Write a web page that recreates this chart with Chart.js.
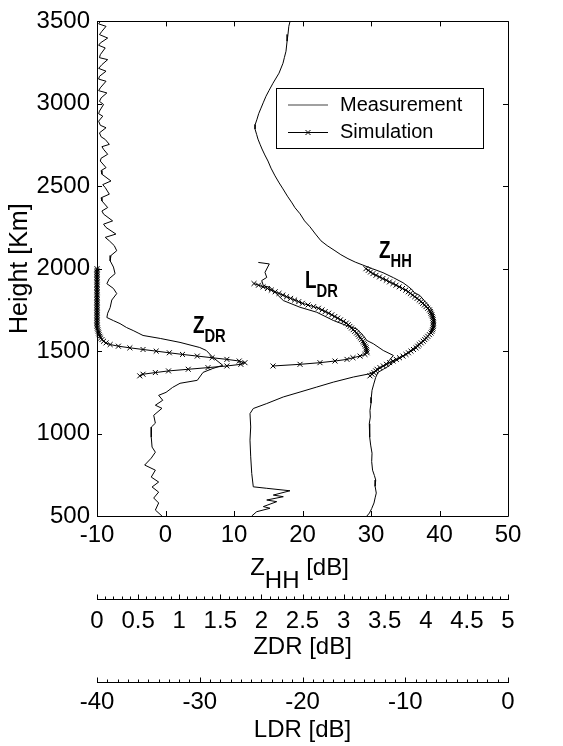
<!DOCTYPE html>
<html><head><meta charset="utf-8">
<script src="https://cdn.jsdelivr.net/npm/chart.js@4.4.0/dist/chart.umd.min.js"></script>
<style>html,body{margin:0;padding:0;background:#fff;}</style>
</head><body>
<canvas id="c" width="563" height="746"></canvas>
<script>
// ---------- tick labels ----------
const heightTicks = [500, 1000, 1500, 2000, 2500, 3000, 3500];
const zhhTicks = [-10, 0, 10, 20, 30, 40, 50];
const zdrTicks = [0, 0.5, 1, 1.5, 2, 2.5, 3, 3.5, 4, 4.5, 5];
const ldrTicks = [-40, -30, -20, -10, 0];

// ---------- Z_HH measurement (dB) ----------
const zhhMeasHeight = [3500,3470,3421,3380,3319,3280,3246,3186,3125,3080,3046,3010,2974,2940,2907,2875,2847,2815,2786,2755,2726,2690,2653,2610,2563,2520,2484,2440,2399,2370,2333,2290,2254,2210,2169,2140,2109,2085,2061,2040,2024,2000,1976,1945,1915,1890,1867,1855,1837,1810,1788,1760,1734,1700,1674,1640,1607,1575,1547,1520,1492,1470,1450,1430,1407,1390,1371,1341,1300,1262,1220,1184,1140,1100,1060,1020,978,930,881,830,778,745,718,680,639,610,579,545,518,500];
const zhhMeasValue = [18.18,18.0,17.88,17.75,17.59,17.35,17.15,16.57,15.69,15.1,14.67,14.3,13.94,13.6,13.36,13.1,13.07,13.3,13.5,13.8,14.09,14.5,14.96,15.4,15.99,16.6,17.15,17.8,18.47,18.9,19.64,20.3,21.09,21.9,22.7,23.6,24.74,25.6,26.64,27.7,28.69,30.2,31.75,33.3,34.67,35.5,36.13,36.3,37.15,37.7,38.18,38.7,39.05,39.2,39.2,38.95,38.61,37.9,37.15,36.3,35.4,34.7,33.94,33.2,32.48,31.8,31.02,30.69,30.4,30.15,30.05,30.0,29.85,29.9,29.75,29.85,29.77,29.95,30.15,30.1,30.23,30.5,30.69,30.6,30.77,30.6,30.44,30.1,29.77,29.4];

// ---------- ZDR measurement (dB) ----------
const zdrMeasHeight = [3500,3485,3470,3440,3420,3399,3369,3355,3339,3298,3280,3268,3238,3215,3198,3167,3150,3137,3097,3080,3066,3036,3015,2996,2956,2940,2925,2895,2870,2855,2824,2800,2784,2754,2740,2724,2694,2670,2653,2613,2595,2573,2532,2510,2492,2452,2430,2411,2371,2350,2331,2290,2270,2250,2210,2190,2169,2140,2109,2080,2048,2010,1970,1940,1909,1880,1849,1810,1764,1730,1704,1685,1667,1643,1625,1610,1595,1577,1553,1522,1504,1462,1414,1395,1371,1323,1305,1280,1250,1232,1202,1172,1153,1111,1063,1039,978,918,887,851,809,778,736,706,676,645,609,579,536,500];
const zdrMeasValue = [0.04,0.02,0.11,0.06,0.03,0.13,0.04,0.02,0.10,0.04,0.03,0.13,0.06,0.02,0.11,0.03,0.02,0.11,0.04,0.02,0.12,0.05,0.03,0.08,0.03,0.02,0.07,0.02,0.04,0.11,0.03,0.05,0.10,0.15,0.06,0.08,0.13,0.05,0.04,0.11,0.05,0.06,0.17,0.07,0.10,0.15,0.05,0.06,0.13,0.06,0.08,0.19,0.08,0.11,0.23,0.10,0.15,0.21,0.24,0.17,0.16,0.20,0.22,0.15,0.12,0.20,0.24,0.18,0.16,0.13,0.12,0.20,0.28,0.36,0.44,0.50,0.56,0.77,1.01,1.25,1.33,1.41,1.53,1.41,1.29,1.22,1.01,0.92,0.84,0.75,0.80,0.71,0.79,0.69,0.71,0.66,0.66,0.67,0.71,0.66,0.58,0.71,0.66,0.75,0.67,0.75,0.69,0.75,0.71,0.79];

// ---------- LDR measurement (dB) ----------
const ldrMeasHeight = [2038,2029,1978,1947,1928,1897,1887,1807,1766,1736,1686,1655,1635,1595,1565,1545,1504,1474,1424,1383,1363,1343,1312,1282,1252,1222,1182,1152,1121,1040,960,859,758,677,668,653,627,617,597,587,557,547,526,500];
const ldrMeasValue = [-24.30,-23.23,-23.65,-23.48,-23.97,-23.81,-23.16,-21.87,-20.24,-18.62,-17.00,-15.70,-14.73,-14.08,-13.75,-13.11,-12.14,-11.16,-11.81,-12.78,-13.43,-15.05,-17.00,-18.62,-20.24,-21.87,-23.48,-24.79,-25.11,-25.04,-25.11,-25.04,-24.94,-24.79,-23.48,-21.22,-22.84,-21.87,-23.48,-22.51,-23.81,-23.16,-24.46,-24.94];

// ---------- Simulation ----------
const simHeight = [2000,1990,1980,1970,1960,1950,1940,1930,1920,1910,1900,1890,1880,1870,1860,1850,1840,1830,1820,1810,1800,1790,1780,1770,1760,1750,1740,1730,1720,1710,1700,1690,1680,1670,1660,1650,1640,1630,1620,1610,1600,1590,1580,1570,1560,1550,1540,1530,1520,1510,1500,1490,1480,1470,1460,1450,1440,1430,1420,1410,1400,1390,1380,1370,1360,1350];
const zhhSimValue = [29.26,29.61,29.93,30.28,30.73,31.24,31.72,32.23,32.70,33.21,33.65,34.13,34.60,35.07,35.45,35.75,36.07,36.39,36.73,37.04,37.31,37.55,37.80,38.03,38.28,38.53,38.66,38.76,38.86,38.95,39.02,39.08,39.11,39.11,39.11,39.09,39.05,38.98,38.89,38.76,38.53,38.29,38.06,37.85,37.62,37.33,37.04,36.83,36.57,36.20,35.84,35.47,35.11,34.67,34.16,33.69,33.21,32.72,32.26,31.80,31.31,30.88,30.69,30.42,30.15,29.85];
const zdrSimValue = [0,0,0,0,0,0,0,0,0,0,0,0,0,0,0,0,0,0,0,0,0,0,0,0,0,0,0,0,0,0,0,0,0,0,0,0,0.005,0.01,0.015,0.02,0.025,0.035,0.045,0.06,0.08,0.11,0.16,0.26,0.40,0.56,0.72,0.88,1.04,1.22,1.40,1.58,1.73,1.80,1.75,1.58,1.35,1.11,0.87,0.71,0.56,0.52];
const ldrSimHeight = [1910,1900,1890,1880,1870,1860,1850,1840,1830,1820,1810,1800,1790,1780,1770,1760,1750,1740,1730,1720,1710,1700,1690,1680,1670,1660,1650,1640,1630,1620,1610,1600,1590,1580,1570,1560,1550,1540,1530,1520,1510,1500,1490,1480,1470,1460,1450,1440,1430,1420,1410];
const ldrSimValue = [-24.72,-24.28,-23.84,-23.41,-23.04,-22.66,-22.29,-21.92,-21.55,-21.16,-20.77,-20.37,-20.01,-19.46,-18.92,-18.45,-18.10,-17.79,-17.46,-17.15,-16.86,-16.58,-16.30,-16.02,-15.74,-15.55,-15.39,-15.23,-15.07,-14.91,-14.74,-14.61,-14.49,-14.37,-14.25,-14.12,-14.04,-13.96,-13.88,-13.81,-13.78,-13.74,-13.72,-13.92,-14.40,-15.09,-15.67,-16.84,-18.30,-20.24,-22.87];

// ---------- text labels ----------
const legendLabels = ['Measurement', 'Simulation'];
const curveLabels = [
  {main: 'Z', sub: 'DR', x: 4.0, y: 1613},
  {main: 'L', sub: 'DR', x: 20.36, y: 1885},
  {main: 'Z', sub: 'HH', x: 31.17, y: 2067}
];

const FONT = "'Liberation Sans', Arial, Helvetica, sans-serif";
Chart.defaults.font.family = FONT;
Chart.defaults.color = '#000';

const pts = (hs, vs) => hs.map((h, i) => ({x: vs[i], y: h}));
const meas = (hs, vs, ax) => ({data: pts(hs, vs), xAxisID: ax, yAxisID: 'y', showLine: true,
  borderColor: '#000', borderWidth: 1, pointRadius: 0, tension: 0, clip: 4});
const sim = (hs, vs, ax) => ({data: pts(hs, vs), xAxisID: ax, yAxisID: 'y', showLine: true,
  borderColor: '#000', borderWidth: 1, pointStyle: 'crossRot', pointRadius: 3.5,
  pointBorderColor: '#000', pointBackgroundColor: '#000', pointBorderWidth: 1, tension: 0, clip: 6});

const setTicks = arr => s => { s.ticks = arr.map(v => ({value: v})); };
const tickFont = {size: 24};

const decor = {
  id: 'decor',
  afterDraw(chart) {
    const ctx = chart.ctx, a = chart.chartArea, S = chart.scales;
    const px = v => Math.round(v) + 0.5;
    ctx.save();
    ctx.strokeStyle = '#000'; ctx.lineWidth = 1;
    ctx.beginPath();
    ctx.rect(px(a.left), px(a.top), Math.round(a.right) - Math.round(a.left), Math.round(a.bottom) - Math.round(a.top));
    S.x.ticks.forEach(t => { const p = px(S.x.getPixelForValue(t.value));
      ctx.moveTo(p, a.bottom); ctx.lineTo(p, a.bottom - 5); ctx.moveTo(p, a.top); ctx.lineTo(p, a.top + 5); });
    S.y.ticks.forEach(t => { const p = px(S.y.getPixelForValue(t.value));
      ctx.moveTo(a.left, p); ctx.lineTo(a.left + 5, p); ctx.moveTo(a.right, p); ctx.lineTo(a.right - 5, p); });
    ctx.stroke();
    const minor = (s, step, every) => {
      const n = Math.round((s.max - s.min) / step);
      const y0 = px(s.top);
      ctx.beginPath();
      for (let i = 0; i <= n; i++) {
        const p = px(s.getPixelForValue(s.min + i * step));
        ctx.moveTo(p, y0); ctx.lineTo(p, y0 - (i % every === 0 ? 5 : 3));
      }
      ctx.stroke();
    };
    minor(S.xZdr, 0.1, 5);
    minor(S.xLdr, 1, 10);

    // x axis title  Z_HH [dB]
    ctx.fillStyle = '#000';
    ctx.textBaseline = 'alphabetic';
    ctx.textAlign = 'left';
    ctx.font = '24px ' + FONT;
    const wZ = ctx.measureText('Z').width, wH = ctx.measureText('HH').width, wB = ctx.measureText(' [dB]').width;
    const x0 = (S.x.left + S.x.right) / 2 - (wZ + wH + wB) / 2 - 3;
    const yb = S.x.top + 59;
    ctx.fillText('Z', x0, yb);
    ctx.fillText('HH', x0 + wZ, yb + 13);
    ctx.fillText(' [dB]', x0 + wZ + wH, yb);

    // curve labels (condensed bold)
    curveLabels.forEach(c => {
      const x = S.x.getPixelForValue(c.x), y = S.y.getPixelForValue(c.y);
      ctx.save();
      ctx.translate(x, y);
      ctx.scale(0.82, 1);
      ctx.font = 'bold 23px ' + FONT;
      ctx.fillText(c.main, 0, 0);
      const w = ctx.measureText(c.main).width;
      ctx.font = 'bold 18px ' + FONT;
      ctx.fillText(c.sub, w, 9);
      ctx.restore();
    });

    // legend
    const lx = Math.round(a.left) + 179, ly = Math.round(a.top) + 67;
    ctx.fillStyle = '#fff';
    ctx.fillRect(lx, ly, 207, 60);
    ctx.strokeStyle = '#000'; ctx.lineWidth = 1;
    ctx.strokeRect(lx + 0.5, ly + 0.5, 207, 60);
    ctx.strokeStyle = '#808080'; ctx.lineWidth = 1.5;
    ctx.beginPath(); ctx.moveTo(lx + 12, ly + 17); ctx.lineTo(lx + 52, ly + 17); ctx.stroke();
    ctx.strokeStyle = '#000'; ctx.lineWidth = 1;
    ctx.beginPath(); ctx.moveTo(lx + 12, ly + 44.5); ctx.lineTo(lx + 52, ly + 44.5);
    ctx.moveTo(lx + 29.5, ly + 42); ctx.lineTo(lx + 34.5, ly + 47);
    ctx.moveTo(lx + 34.5, ly + 42); ctx.lineTo(lx + 29.5, ly + 47);
    ctx.stroke();
    ctx.fillStyle = '#000';
    ctx.font = '20px ' + FONT;
    ctx.textBaseline = 'middle';
    ctx.fillText(legendLabels[0], lx + 64, ly + 17);
    ctx.fillText(legendLabels[1], lx + 64, ly + 44);
    ctx.restore();
  }
};

new Chart(document.getElementById('c'), {
  type: 'scatter',
  data: {
    datasets: [
      meas(zhhMeasHeight, zhhMeasValue, 'x'),
      sim(simHeight, zhhSimValue, 'x'),
      meas(zdrMeasHeight, zdrMeasValue, 'xZdr'),
      sim(simHeight, zdrSimValue, 'xZdr'),
      meas(ldrMeasHeight, ldrMeasValue, 'xLdr'),
      sim(ldrSimHeight, ldrSimValue, 'xLdr')
    ]
  },
  options: {
    responsive: false,
    animation: false,
    events: [],
    layout: {padding: {top: 20, right: 55, bottom: 0, left: 0}},
    plugins: {legend: {display: false}, tooltip: {enabled: false}},
    scales: {
      x: {
        type: 'linear', position: 'bottom', min: -10, max: 50,
        afterBuildTicks: setTicks(zhhTicks),
        ticks: {font: tickFont, color: '#000', padding: 4.5, maxRotation: 0, autoSkip: false, callback: v => String(v)},
        grid: {display: false, drawTicks: false},
        border: {display: false},
        title: {display: false},
        afterFit: s => { s.height = 83; }
      },
      y: {
        type: 'linear', position: 'left', min: 500, max: 3500,
        afterBuildTicks: setTicks(heightTicks),
        ticks: {font: tickFont, color: '#000', padding: 7, autoSkip: false, callback: v => String(v)},
        grid: {display: false, drawTicks: false},
        border: {display: false},
        title: {display: true, text: 'Height [Km]', font: {size: 25}, color: '#000', padding: {top: 5, bottom: 0}},
        afterFit: s => { s.width = 97; }
      },
      xZdr: {
        type: 'linear', position: 'bottom', min: 0, max: 5,
        afterBuildTicks: setTicks(zdrTicks),
        ticks: {font: tickFont, color: '#000', padding: 7.5, maxRotation: 0, autoSkip: false, callback: v => String(v)},
        grid: {display: false, drawTicks: false},
        border: {display: true, color: '#000', width: 1},
        title: {display: true, text: 'ZDR [dB]', font: {size: 24}, color: '#000', padding: {top: 0, bottom: 20.5}},
        afterFit: s => { s.height = 83; }
      },
      xLdr: {
        type: 'linear', position: 'bottom', min: -40, max: 0,
        afterBuildTicks: setTicks(ldrTicks),
        ticks: {font: tickFont, color: '#000', padding: 5.5, maxRotation: 0, autoSkip: false, callback: v => String(v)},
        grid: {display: false, drawTicks: false},
        border: {display: true, color: '#000', width: 1},
        title: {display: true, text: 'LDR [dB]', font: {size: 24}, color: '#000', padding: {top: 0, bottom: 1}},
        afterFit: s => { s.height = 64; }
      }
    }
  },
  plugins: [decor]
});
</script>
</body></html>
